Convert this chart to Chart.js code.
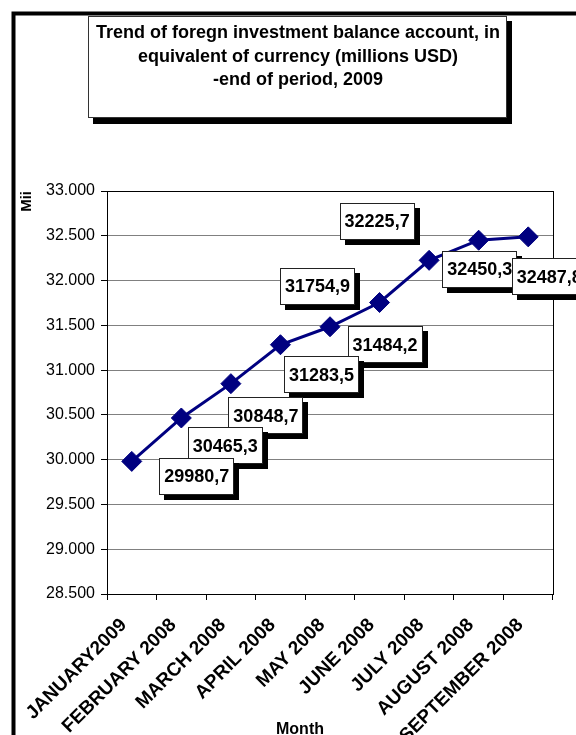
<!DOCTYPE html>
<html>
<head>
<meta charset="utf-8">
<script src="https://cdn.jsdelivr.net/npm/chart.js@4.4.1/dist/chart.umd.min.js"></script>
<style>
  html, body { margin: 0; padding: 0; background: #fff; }
  #wrap { width: 576px; height: 735px; }
</style>
</head>
<body>
<div id="wrap"><canvas id="trendChart" width="576" height="735"></canvas></div>
<script>
// Chart data
const months = ["JANUARY2009", "FEBRUARY 2008", "MARCH 2008", "APRIL 2008", "MAY 2008",
  "JUNE 2008", "JULY 2008", "AUGUST 2008", "SEPTEMBER 2008"];
const balance = [29980.7, 30465.3, 30848.7, 31283.5, 31484.2, 31754.9, 32225.7, 32450.3, 32487.8];
const yMin = 28500;
const yMax = 33000;
const yStep = 500;
const titleLines = ["Trend of foregn investment balance account, in",
  "equivalent of currency (millions USD)",
  "-end of period, 2009"];

// where each value box sits relative to its point, and which box is drawn on top
const labelOffsets = [[65, 15], [44, 28], [35, 32], [41, 30], [55, 18], [-62, -16], [-52, -39], [1, 29], [21, 40]];
const labelOrder = [7, 6, 5, 4, 3, 2, 1, 0, 8];

const FONT = "'Liberation Sans', Arial, sans-serif";

// 33000 -> "33.000"
function thousands(v) {
  return Math.floor(v / 1000) + "." + String(Math.round(v % 1000)).padStart(3, "0");
}

// frame, title box and "Month" text
const framePlugin = {
  id: "frame",
  beforeDraw(chart) {
    const ctx = chart.ctx;
    ctx.save();
    ctx.fillStyle = "#fff";
    ctx.fillRect(0, 0, chart.width, chart.height);

    // outer frame
    ctx.strokeStyle = "#000";
    ctx.lineWidth = 4;
    ctx.beginPath();
    ctx.moveTo(13.5, chart.height + 5);
    ctx.lineTo(13.5, 13.5);
    ctx.lineTo(chart.width + 5, 13.5);
    ctx.stroke();

    // title box with shadow
    ctx.fillStyle = "#000";
    ctx.fillRect(93, 21, 419, 103);
    ctx.fillStyle = "#fff";
    ctx.fillRect(88, 16, 419, 102);
    ctx.strokeStyle = "#333";
    ctx.lineWidth = 1;
    ctx.strokeRect(88.5, 16.5, 418, 101);

    ctx.fillStyle = "#000";
    ctx.font = "bold 18px " + FONT;
    ctx.textAlign = "center";
    ctx.textBaseline = "alphabetic";
    titleLines.forEach((t, i) => ctx.fillText(t, 298, 38 + i * 23.5));

    ctx.font = "bold 16px " + FONT;
    ctx.fillText("Month", 300, 734);
    ctx.restore();
  },
  beforeDatasetsDraw(chart) {
    const a = chart.chartArea;
    const ctx = chart.ctx;
    ctx.save();
    ctx.strokeStyle = "#000";
    ctx.lineWidth = 1;
    ctx.strokeRect(Math.round(a.left) + 0.5, Math.round(a.top) + 0.5,
      Math.round(a.right - a.left), Math.round(a.bottom - a.top));
    ctx.restore();
  }
};

// value boxes with drop shadow
const valueLabelPlugin = {
  id: "valueLabels",
  afterDatasetsDraw(chart) {
    const ctx = chart.ctx;
    const pts = chart.getDatasetMeta(0).data;
    ctx.save();
    ctx.font = "bold 18px " + FONT;
    ctx.textAlign = "center";
    ctx.textBaseline = "middle";
    labelOrder.forEach(i => {
      const p = pts[i];
      const text = balance[i].toFixed(1).replace(".", ",");
      const w = Math.round(ctx.measureText(text).width) + 10;
      const h = 37;
      const cx = p.x + labelOffsets[i][0];
      const cy = p.y + labelOffsets[i][1];
      const x0 = Math.round(cx - w / 2);
      const y0 = Math.round(cy - h / 2);
      ctx.fillStyle = "#000";
      ctx.fillRect(x0 + 5, y0 + 5, w, h);
      ctx.fillStyle = "#fff";
      ctx.fillRect(x0, y0, w, h);
      ctx.strokeStyle = "#222";
      ctx.lineWidth = 1;
      ctx.strokeRect(x0 + 0.5, y0 + 0.5, w - 1, h - 1);
      ctx.fillStyle = "#000";
      ctx.fillText(text, cx, cy + 1);
    });
    ctx.restore();
  }
};

new Chart(document.getElementById("trendChart"), {
  type: "line",
  data: {
    labels: months,
    datasets: [{
      data: balance,
      borderColor: "#000080",
      backgroundColor: "#000080",
      borderWidth: 3,
      tension: 0,
      pointStyle: "rectRot",
      pointRadius: 10,
      pointBorderWidth: 1,
      pointBackgroundColor: "#000080",
      pointBorderColor: "#000080"
    }]
  },
  options: {
    responsive: false,
    animation: false,
    devicePixelRatio: 1,
    layout: { padding: { top: 191, right: 23, bottom: 0, left: 14 } },
    plugins: {
      legend: { display: false },
      tooltip: { enabled: false }
    },
    scales: {
      x: {
        type: "category",
        offset: true,
        grid: {
          offset: true,
          drawOnChartArea: false,
          drawTicks: true,
          tickLength: 6,
          color: "#000"
        },
        border: { color: "#000", width: 1 },
        ticks: {
          autoSkip: false,
          minRotation: 45,
          maxRotation: 45,
          color: "#000",
          font: { family: FONT, size: 19, weight: "bold" },
          padding: 14,
          labelOffset: -8
        },
        afterFit(scale) { scale.height = 141; }
      },
      y: {
        min: yMin,
        max: yMax,
        ticks: {
          stepSize: yStep,
          color: "#000",
          font: { family: FONT, size: 16 },
          padding: 6,
          callback: v => thousands(v)
        },
        grid: {
          color: "#808080",
          tickColor: "#000",
          tickLength: 6
        },
        border: { color: "#000", width: 1 },
        title: {
          display: true,
          text: "Mii",
          align: "end",
          color: "#000",
          font: { family: FONT, size: 15, weight: "bold" },
          padding: { top: 4, bottom: 0 }
        },
        afterFit(scale) { scale.width = 93; }
      }
    }
  },
  plugins: [framePlugin, valueLabelPlugin]
});
</script>
</body>
</html>
